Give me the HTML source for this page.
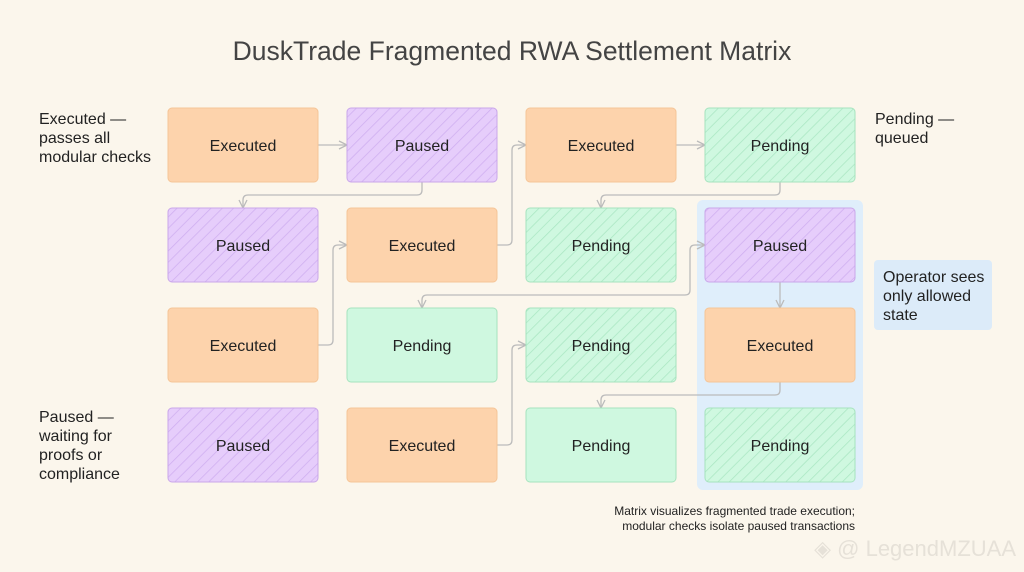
<!DOCTYPE html>
<html><head><meta charset="utf-8"><style>
html,body{margin:0;padding:0;background:#fbf6ec;}
svg{display:block;font-family:"Liberation Sans",sans-serif;}
</style></head><body>
<svg width="1024" height="572" viewBox="0 0 1024 572" xmlns="http://www.w3.org/2000/svg">
<defs>
<pattern id="hp" width="8" height="8" patternUnits="userSpaceOnUse" patternTransform="rotate(45)"><rect width="8" height="8" fill="#e6cdfb"/><line x1="0" y1="0" x2="0" y2="8" stroke="#cfaef0" stroke-width="1.5"/></pattern>
<pattern id="hg" width="8" height="8" patternUnits="userSpaceOnUse" patternTransform="rotate(45)"><rect width="8" height="8" fill="#cff8e0"/><line x1="0" y1="0" x2="0" y2="8" stroke="#a9e6c2" stroke-width="1.5"/></pattern>
<marker id="a" markerWidth="10" markerHeight="10" refX="9" refY="5" orient="auto" markerUnits="userSpaceOnUse"><path d="M1,1 L9,5 L1,9" fill="none" stroke="#bbb" stroke-width="1.3"/></marker>
<marker id="s" markerWidth="10" markerHeight="10" refX="1" refY="5" orient="auto" markerUnits="userSpaceOnUse"><path d="M9,1 L1,5 L9,9" fill="none" stroke="#bbb" stroke-width="1.3"/></marker>
</defs>
<rect width="1024" height="572" fill="#fbf6ec"/>
<text x="512" y="60" text-anchor="middle" font-size="26.5" fill="#444">DuskTrade Fragmented RWA Settlement Matrix</text>
<rect x="697" y="200" width="166" height="290" rx="6" fill="#dfeefb"/>
<rect x="874" y="260" width="118" height="70" rx="4" fill="#dcebf9"/>
<text font-size="16" fill="#222"><tspan x="883" y="282">Operator sees</tspan><tspan x="883" y="301">only allowed</tspan><tspan x="883" y="320">state</tspan></text>
<text font-size="16" fill="#222"><tspan x="39" y="124">Executed —</tspan><tspan x="39" y="143">passes all</tspan><tspan x="39" y="162">modular checks</tspan></text>
<text font-size="16" fill="#222"><tspan x="875" y="124">Pending —</tspan><tspan x="875" y="143">queued</tspan></text>
<text font-size="16" fill="#222"><tspan x="39" y="422">Paused —</tspan><tspan x="39" y="441">waiting for</tspan><tspan x="39" y="460">proofs or</tspan><tspan x="39" y="479">compliance</tspan></text>
<text font-size="12" fill="#222" text-anchor="end"><tspan x="855" y="515">Matrix visualizes fragmented trade execution;</tspan><tspan x="855" y="530">modular checks isolate paused transactions</tspan></text>
<text x="1016" y="556" text-anchor="end" font-size="22" fill="#e6e1d8">◈ @ LegendMZUAA</text>
<g fill="none" stroke="#bbb" stroke-width="1.3">
<path d="M318,145 H347" marker-end="url(#a)"/>
<path d="M676,145 H705" marker-end="url(#a)"/>
<path d="M422,182 V190 Q422,195 417,195 H248 Q243,195 243,200 V208" marker-end="url(#a)"/>
<path d="M780,182 V190 Q780,195 775,195 H606 Q601,195 601,200 V208" marker-end="url(#a)"/>
<path d="M497,245 H507 Q512,245 512,240 V150 Q512,145 517,145 H526" marker-end="url(#a)"/>
<path d="M318,345 H328 Q333,345 333,340 V250 Q333,245 338,245 H347" marker-end="url(#a)"/>
<path d="M497,445 H507 Q512,445 512,440 V350 Q512,345 517,345 H526" marker-end="url(#a)"/>
<path d="M780,282 V308" marker-end="url(#a)"/>
<path d="M705,245 H695 Q690,245 690,250 V290 Q690,295 685,295 H427 Q422,295 422,300 V308" marker-start="url(#s)" marker-end="url(#a)"/>
<path d="M780,382 V390 Q780,395 775,395 H606 Q601,395 601,400 V408" marker-end="url(#a)"/>
</g>
<g font-size="16" fill="#222" text-anchor="middle">
<rect x="168" y="108" width="150" height="74" rx="4" fill="#fdd3ac" stroke="#f5c597"/><text x="243" y="151">Executed</text>
<rect x="347" y="108" width="150" height="74" rx="4" fill="url(#hp)" stroke="#c9a6ea"/><text x="422" y="151">Paused</text>
<rect x="526" y="108" width="150" height="74" rx="4" fill="#fdd3ac" stroke="#f5c597"/><text x="601" y="151">Executed</text>
<rect x="705" y="108" width="150" height="74" rx="4" fill="url(#hg)" stroke="#a6e3be"/><text x="780" y="151">Pending</text>

<rect x="168" y="208" width="150" height="74" rx="4" fill="url(#hp)" stroke="#c9a6ea"/><text x="243" y="251">Paused</text>
<rect x="347" y="208" width="150" height="74" rx="4" fill="#fdd3ac" stroke="#f5c597"/><text x="422" y="251">Executed</text>
<rect x="526" y="208" width="150" height="74" rx="4" fill="url(#hg)" stroke="#a6e3be"/><text x="601" y="251">Pending</text>
<rect x="705" y="208" width="150" height="74" rx="4" fill="url(#hp)" stroke="#c9a6ea"/><text x="780" y="251">Paused</text>

<rect x="168" y="308" width="150" height="74" rx="4" fill="#fdd3ac" stroke="#f5c597"/><text x="243" y="351">Executed</text>
<rect x="347" y="308" width="150" height="74" rx="4" fill="#cff8e0" stroke="#a6e3be"/><text x="422" y="351">Pending</text>
<rect x="526" y="308" width="150" height="74" rx="4" fill="url(#hg)" stroke="#a6e3be"/><text x="601" y="351">Pending</text>
<rect x="705" y="308" width="150" height="74" rx="4" fill="#fdd3ac" stroke="#f5c597"/><text x="780" y="351">Executed</text>

<rect x="168" y="408" width="150" height="74" rx="4" fill="url(#hp)" stroke="#c9a6ea"/><text x="243" y="451">Paused</text>
<rect x="347" y="408" width="150" height="74" rx="4" fill="#fdd3ac" stroke="#f5c597"/><text x="422" y="451">Executed</text>
<rect x="526" y="408" width="150" height="74" rx="4" fill="#cff8e0" stroke="#a6e3be"/><text x="601" y="451">Pending</text>
<rect x="705" y="408" width="150" height="74" rx="4" fill="url(#hg)" stroke="#a6e3be"/><text x="780" y="451">Pending</text>
</g>
</svg>
</body></html>
